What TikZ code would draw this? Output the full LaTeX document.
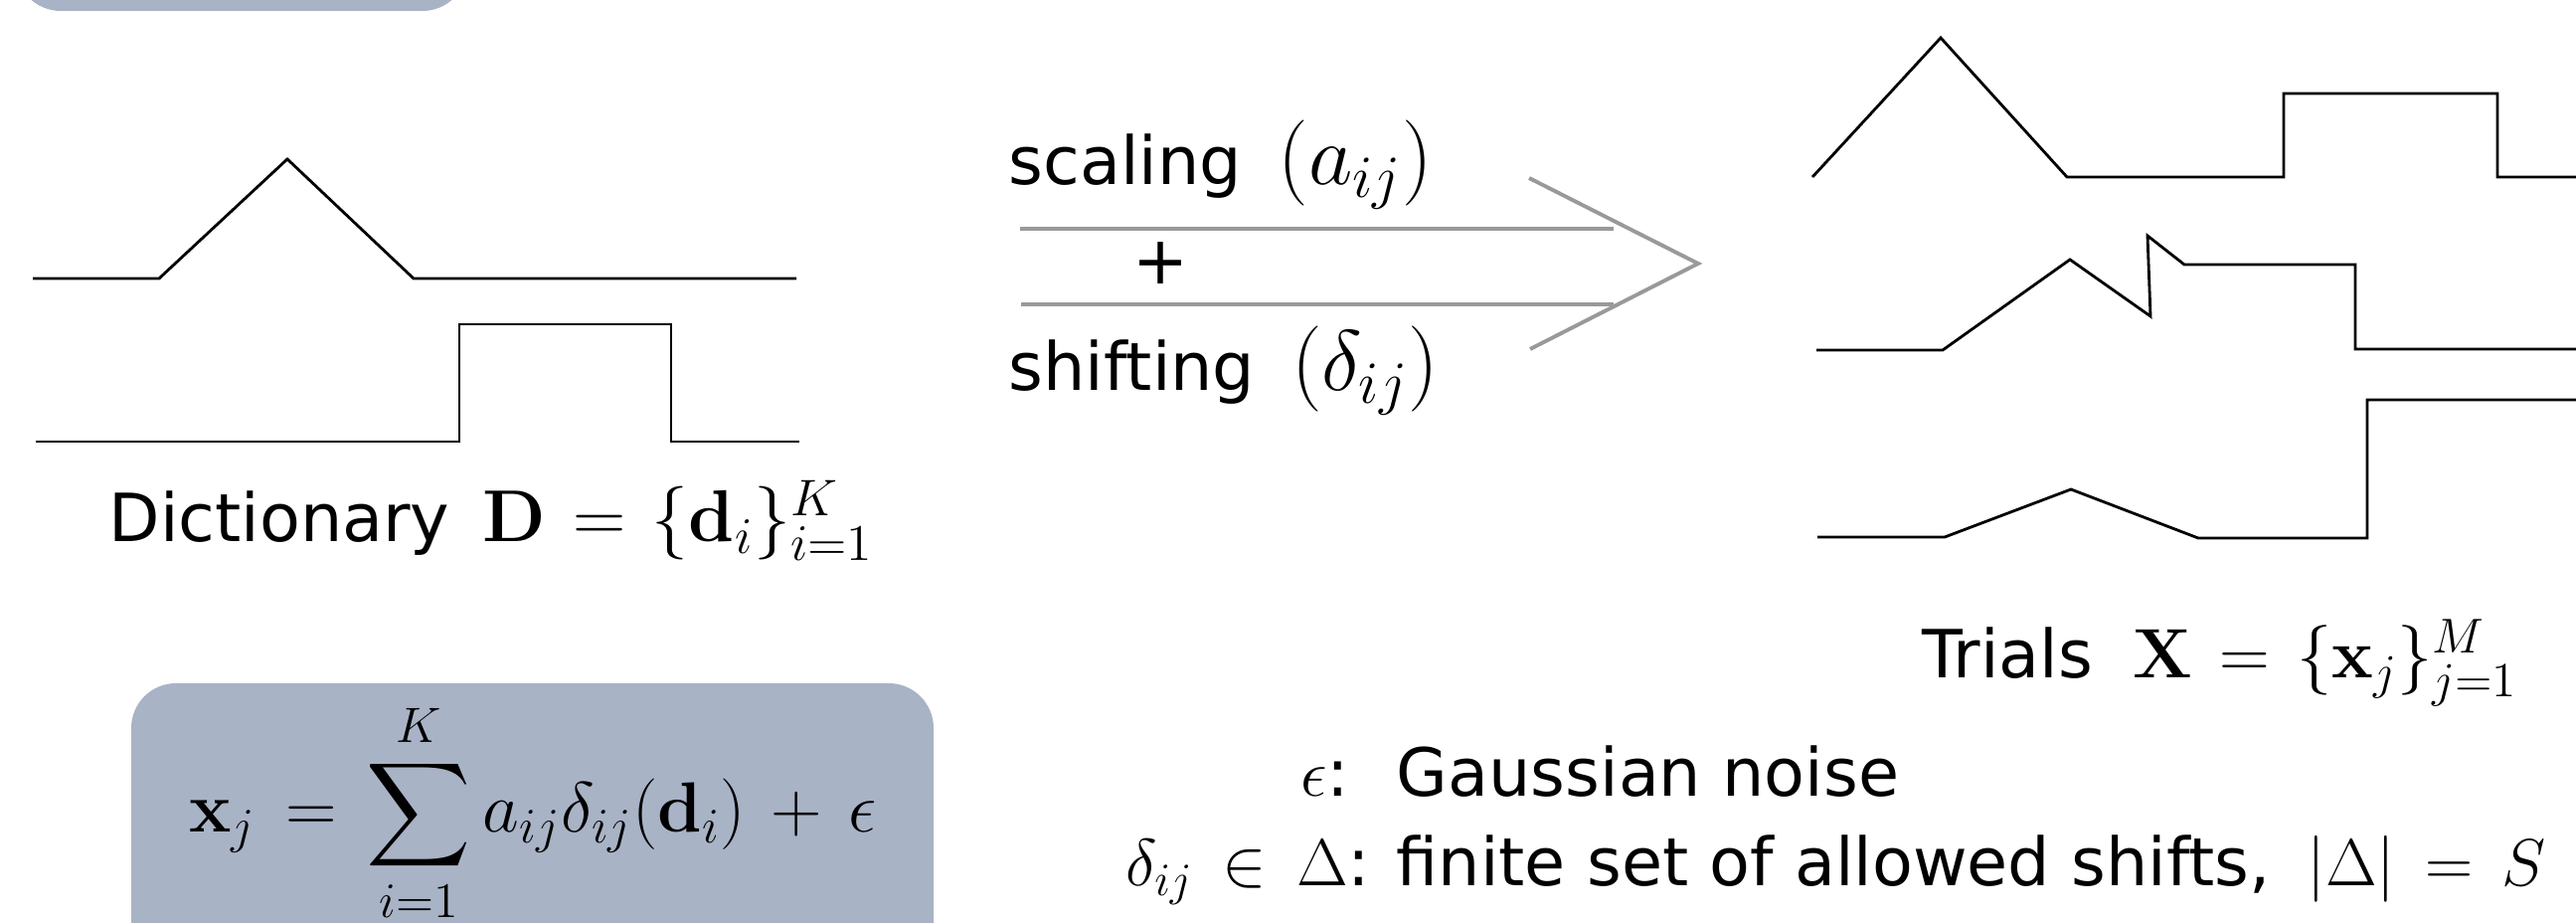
\documentclass[tikz,border=0pt]{standalone}
\usepackage{fix-cm}
\usepackage[no-math]{fontspec}
\setmainfont{DejaVu Sans}
\usepackage{amsmath}
\definecolor{boxblue}{HTML}{A9B3C6}
\definecolor{arrowgray}{HTML}{999999}
% math set at its own size and relation spacing: #1 size (pt), #2 thick space (mu), #3 formula
\newcommand{\mth}[3]{{\fontsize{#1}{#1}\selectfont\thickmuskip=#2mu plus 3mu\relax\medmuskip=6.5mu plus 2mu minus 3mu\relax$#3$}}
\begin{document}
\begin{tikzpicture}[x=0.01cm,y=-0.01cm,
  font=\fontsize{19}{23}\selectfont,
  wave/.style={line width=0.8pt, line join=miter},
  flow/.style={draw=arrowgray, line width=1.1pt},
  lbl/.style={inner sep=0pt, anchor=base west},
  rlbl/.style={inner sep=0pt, anchor=base east},
  mathbox/.style={fill=boxblue, rounded corners=0.45cm}]
\clip (0,0) rectangle (2591,928);
\useasboundingbox (0,0) rectangle (2591,928);

% partially visible box at the top
\path[mathbox] (16,-100) rectangle (470,11);

% dictionary atoms
\draw[wave] (33,280) -- (160,280) -- (289,160) -- (416,280) -- (801,280);
\draw[wave] (36,444) -- (462,444) -- (462,326) -- (675,326) -- (675,444) -- (804,444);
\node[lbl] (dict) at (109,545) {Dictionary\hspace{0.5em}\mth{21}{6.5}{\mathbf{D}=\{\mathbf{d}_i\}_{i=1}^{K}}};

% arrow
\coordinate (ua) at (1026,230); \coordinate (ub) at (1623,230);
\coordinate (la) at (1027,306); \coordinate (lb) at (1623,306);
\coordinate (ct) at (1538,179); \coordinate (tip) at (1708,265); \coordinate (cb) at (1539,351);
\draw[flow] (ua) -- (ub);
\draw[flow] (la) -- (lb);
\draw[flow, line join=miter] (ct) -- (tip) -- (cb);
\node[lbl] (scal) at (1014,186) {scaling\hspace{0.55em}\mth{24.5}{5}{(a_{ij})}};
\node[inner sep=0pt] (plus) at (1167,265) {+};
\node[lbl] (shift) at (1014,393) {shifting\hspace{0.55em}\mth{24.5}{5}{(\delta_{ij})}};

% trials
\draw[wave] (1823,178) -- (1952,38) -- (2079,178) -- (2297,178) -- (2297,94) -- (2512,94) -- (2512,178) -- (2600,178);
\draw[wave] (1827,352) -- (1954,352) -- (2082,261) -- (2163,318) -- (2160,237) -- (2197,266) -- (2369,266) -- (2369,351) -- (2600,351);
\draw[wave] (1828,540) -- (1956,540) -- (2083,492) -- (2211,541) -- (2381,541) -- (2381,402) -- (2600,402);
\node[lbl] (trials) at (1933,682) {Trials\hspace{0.6em}\mth{20}{7}{\mathbf{X}=\{\mathbf{x}_j\}_{j=1}^{M}}};

% model
\path[mathbox] (132,687) rectangle (939,1000);
\node[inner sep=0pt, anchor=base] (model) at (536,837) {\mth{20.3}{7.5}{\displaystyle \mathbf{x}_j=\sum_{i=1}^{K}a_{ij}\delta_{ij}(\mathbf{d}_i)+\epsilon}};

% definitions
\node[rlbl] (epsl) at (1358,800) {\mth{19}{8}{\epsilon}:};
\node[lbl] (noise) at (1404,800) {Gaussian noise};
\node[rlbl] (dell) at (1379,890) {\mth{19}{8}{\delta_{ij}\in\Delta}:};
\node[lbl] (shifts) at (1404,890) {finite set of allowed shifts,\hspace{0.55em}\mth{19}{8}{|\Delta| = S}};
\end{tikzpicture}
\end{document}
